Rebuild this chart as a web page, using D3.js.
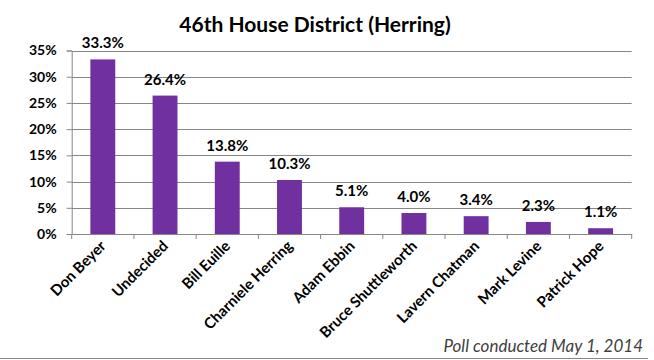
<!DOCTYPE html>
<html><head><meta charset="utf-8">
<script src="https://cdn.jsdelivr.net/npm/d3@7"></script>
<style>body{margin:0;background:#fff}svg{display:block}</style>
</head><body>
<script>
const categories = ["Don Beyer","Undecided","Bill Euille","Charniele Herring","Adam Ebbin","Bruce Shuttleworth","Lavern Chatman","Mark Levine","Patrick Hope"];
const values = [33.3,26.4,13.8,10.3,5.1,4.0,3.4,2.3,1.1];
const yTicks = [0,5,10,15,20,25,30,35];
const title = "46th House District (Herring)";
const footnote = "Poll conducted May 1, 2014";

const W = 654, H = 360;
const margin = {left:71.7, right:654-631.7, top:50.5, bottom:360-234};
const font = "Lato, 'Open Sans', sans-serif";
const svg = d3.select("body").append("svg").attr("width",W).attr("height",H);

const x = d3.scaleBand().domain(categories).range([margin.left, W-margin.right]).paddingInner(0.6).paddingOuter(0.3);
const y = d3.scaleLinear().domain([0,35]).range([H-margin.bottom, margin.top]);

// gridlines + y axis
const yAxis = d3.axisLeft(y).tickValues(yTicks).tickFormat(d=>d+"%").tickSize(5).tickPadding(10);
const gy = svg.append("g").attr("transform",`translate(${margin.left},0)`).call(yAxis);
gy.select(".domain").attr("stroke","#868686");
gy.selectAll(".tick line").attr("stroke","#868686");
gy.selectAll(".tick text").attr("font-family",font).attr("font-weight","bold").attr("font-size",14).attr("fill","#000");

svg.append("g").selectAll("line").data(yTicks.filter(d=>d>0)).join("line")
  .attr("x1",margin.left).attr("x2",W-margin.right)
  .attr("y1",d=>Math.round(y(d))+0.5).attr("y2",d=>Math.round(y(d))+0.5)
  .attr("stroke","#868686");

// x axis
const xAxis = d3.axisBottom(x).tickSize(0).tickFormat("");
const gx = svg.append("g").attr("transform",`translate(0,${y(0)})`).call(xAxis);
gx.select(".domain").attr("stroke","#868686");
const step = x.step();
const bounds = d3.range(categories.length+1).map(i=>margin.left + i*step);
svg.append("g").selectAll("line").data(bounds).join("line")
  .attr("x1",d=>d).attr("x2",d=>d).attr("y1",y(0)).attr("y2",y(0)+5).attr("stroke","#868686");

// bars
svg.append("g").selectAll("rect").data(values).join("rect")
  .attr("x",(d,i)=>x(categories[i])).attr("width",x.bandwidth())
  .attr("y",d=>y(d)).attr("height",d=>y(0)-y(d)).attr("fill","#7030A0");

// value labels
svg.append("g").selectAll("text").data(values).join("text")
  .attr("x",(d,i)=>x(categories[i])+x.bandwidth()/2).attr("y",d=>y(d)-11)
  .attr("text-anchor","middle").attr("font-family",font).attr("font-weight","bold").attr("font-size",15)
  .text(d=>d.toFixed(1)+"%");

// category labels
svg.append("g").selectAll("text").data(categories).join("text")
  .attr("transform",d=>`translate(${x(d)+x.bandwidth()/2+4},${y(0)+13}) rotate(-45)`)
  .attr("text-anchor","end").attr("font-family",font).attr("font-weight","bold").attr("font-size",15)
  .text(d=>d);

// title
svg.append("text").attr("x",315).attr("y",32).attr("text-anchor","middle")
  .attr("font-family",font).attr("font-weight","bold").attr("font-size",21).text(title);

// footnote
svg.append("text").attr("x",643).attr("y",352).attr("text-anchor","end")
  .attr("font-family",font).attr("font-style","italic").attr("font-size",17).attr("fill","#404040").text(footnote);

// bottom border
svg.append("line").attr("x1",0).attr("x2",648).attr("y1",358.5).attr("y2",358.5).attr("stroke","#868686");
</script>
</body></html>
